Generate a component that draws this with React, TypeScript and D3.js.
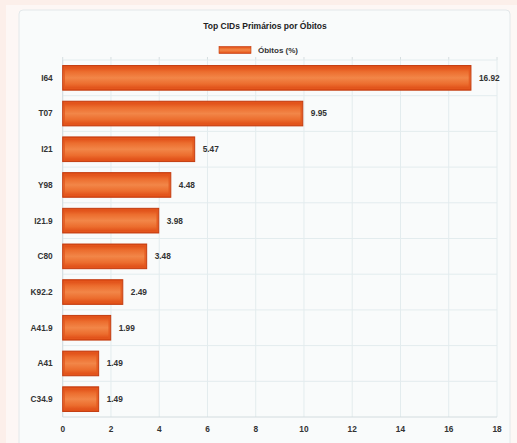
import * as d3 from 'd3'

const categories = ['I64', 'T07', 'I21', 'Y98', 'I21.9', 'C80', 'K92.2', 'A41.9', 'A41', 'C34.9']
const values = [16.92, 9.95, 5.47, 4.48, 3.98, 3.48, 2.49, 1.99, 1.49, 1.49]
const xTicks = [0, 2, 4, 6, 8, 10, 12, 14, 16, 18]

const W = 517
const H = 443
const PLOT_LEFT = 62.7
const PLOT_RIGHT = 497
const PLOT_TOP = 60
const PLOT_BOTTOM = 417
const FONT = '"Liberation Sans", Arial, sans-serif'

export default function App() {
  const x = d3.scaleLinear().domain([0, 18]).range([PLOT_LEFT, PLOT_RIGHT])
  const y = d3.scaleBand<string>()
    .domain(categories)
    .range([PLOT_TOP, PLOT_BOTTOM])
    .paddingInner(0.31)
    .paddingOuter(0.155)
  const step = y.step()
  const bandStarts = categories.map((_, i) => PLOT_TOP + i * step)

  return (
    <svg
      width={W}
      height={H}
      style={{ position: 'absolute', left: 0, top: 0, display: 'block' }}
      fontFamily={FONT}
    >
      <defs>
        <linearGradient id="barGrad" x1="0" y1="0" x2="0" y2="1">
          <stop offset="0%" stopColor="#dc4410" />
          <stop offset="25%" stopColor="#ec6d2e" />
          <stop offset="50%" stopColor="#f28648" />
          <stop offset="75%" stopColor="#ec6d2e" />
          <stop offset="100%" stopColor="#dc4410" />
        </linearGradient>
      </defs>

      {/* page background and card */}
      <rect x={0} y={0} width={W} height={H} fill="#fcefea" />
      <rect x={6} y={5} width={W - 6} height={H} fill="#fdf7f5" />
      <rect x={19} y={10} width={491} height={H} rx={4} fill="#f9fbfb" stroke="#e3e8ea" />

      {/* title */}
      <text x={265} y={29} textAnchor="middle" fontSize={8.5} fontWeight="bold" fill="#222">
        Top CIDs Primários por Óbitos
      </text>

      {/* legend */}
      <rect x={219} y={46.5} width={32} height={7} fill="url(#barGrad)" stroke="#c43c10" strokeWidth={0.6} />
      <text x={258} y={53} fontSize={8} fontWeight="bold" fill="#333">Óbitos (%)</text>

      {/* vertical gridlines */}
      {xTicks.map(t => (
        <g key={`g${t}`}>
          <line x1={x(t)} x2={x(t)} y1={PLOT_TOP} y2={PLOT_BOTTOM} stroke="#e3ecee" strokeWidth={1} />
          <line x1={x(t)} x2={x(t)} y1={PLOT_TOP - 3} y2={PLOT_TOP} stroke="#d6dee0" strokeWidth={1} />
        </g>
      ))}

      {/* horizontal gridlines at band boundaries */}
      {bandStarts.slice(1).map((b, i) => (
        <line key={`h${i}`} x1={PLOT_LEFT} x2={PLOT_RIGHT} y1={b} y2={b} stroke="#e3ecee" strokeWidth={1} />
      ))}
      <line x1={PLOT_LEFT} x2={PLOT_RIGHT} y1={PLOT_TOP} y2={PLOT_TOP} stroke="#e3ecee" />
      <line x1={PLOT_LEFT} x2={PLOT_RIGHT} y1={PLOT_BOTTOM} y2={PLOT_BOTTOM} stroke="#d3dcdf" />
      <line x1={PLOT_LEFT} x2={PLOT_LEFT} y1={PLOT_TOP} y2={PLOT_BOTTOM} stroke="#d3dcdf" />

      {/* bars */}
      {categories.map((c, i) => {
        const by = y(c) ?? 0
        const bw = x(values[i]) - x(0)
        const bh = y.bandwidth()
        return (
          <g key={c}>
            <rect x={x(0)} y={by} width={bw} height={bh} fill="url(#barGrad)" />
            <rect
              x={x(0) + 1.5}
              y={by + 1.5}
              width={Math.max(0, bw - 3)}
              height={bh - 3}
              fill="none"
              stroke="#e4581e"
              strokeWidth={1.5}
              strokeOpacity={0.8}
            />
            <rect x={x(0)} y={by} width={bw} height={bh} fill="none" stroke="#c43c10" strokeWidth={1} />
            <text
              x={x(0) - 10}
              y={by + bh / 2}
              dy="0.35em"
              textAnchor="end"
              fontSize={8.3}
              fontWeight="bold"
              fill="#333"
            >
              {c}
            </text>
            <text
              x={x(values[i]) + 8}
              y={by + bh / 2}
              dy="0.35em"
              fontSize={8.3}
              fontWeight="bold"
              fill="#333"
            >
              {values[i].toFixed(2)}
            </text>
          </g>
        )
      })}

      {/* x tick labels */}
      {xTicks.map(t => (
        <text
          key={`t${t}`}
          x={x(t)}
          y={PLOT_BOTTOM + 12}
          dy="0.35em"
          textAnchor="middle"
          fontSize={8.3}
          fontWeight="bold"
          fill="#333"
        >
          {t}
        </text>
      ))}
    </svg>
  )
}
